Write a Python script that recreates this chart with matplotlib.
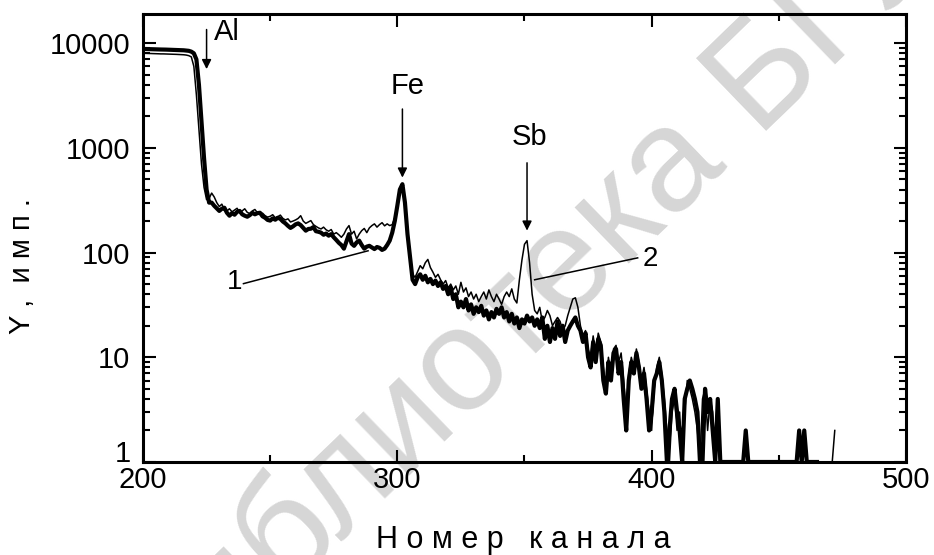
import numpy as np
import matplotlib
matplotlib.use("Agg")
import matplotlib.pyplot as plt
from matplotlib.ticker import FixedLocator, LogLocator, NullFormatter

# Спектры обратного рассеяния: 1 - без сурьмы, 2 - с сурьмой
imp_1 = [
    8800, 8800, 8780, 8760, 8750, 8740, 8720, 8700, 8700, 8680,
    8660, 8650, 8640, 8620, 8600, 8580, 8550, 8500, 8450, 8300,
    8000, 7000, 4000, 1800, 800, 400, 300, 300, 280, 265,
    250, 262, 268, 240, 225, 238, 230, 245, 250, 232,
    225, 220, 228, 240, 232, 238, 240, 222, 215, 205,
    202, 212, 206, 215, 210, 198, 190, 180, 172, 178,
    186, 190, 183, 172, 162, 168, 169, 175, 160, 158,
    155, 148, 152, 145, 150, 140, 132, 124, 118, 109,
    128, 150, 122, 116, 125, 130, 118, 109, 114, 116,
    112, 108, 113, 111, 106, 109, 118, 130, 155, 200,
    280, 400, 450, 300, 150, 90, 55, 50, 58, 62,
    55, 60, 52, 56, 50, 54, 48, 52, 45, 48,
    40, 46, 36, 40, 30, 34, 30, 36, 28, 32,
    26, 30, 27, 31, 25, 28, 23, 27, 24, 29,
    26, 30, 24, 27, 22, 26, 21, 24, 19, 23,
    21, 25, 22, 24, 20, 23, 19, 24, 15, 20,
    14, 19, 15, 22, 16, 20, 14, 18, 20, 22,
    24, 20, 18, 14, 17, 10, 8, 14, 9, 15,
    13, 6, 4.5, 9, 6, 11, 12, 7, 9, 4,
    2, 6, 9, 7, 11, 8, 5, 7, 4, 2,
    3, 6, 7, 9, 6, 3, 1, 2, 4, 5,
    3, 2, 1, 4, 5, 6, 5, 4, 3, 1,
    1, 5, 3, 4, 2, 1, 4, 1, 1, 1,
    1, 1, 1, 1, 1, 1, 1, 2, 1, 1,
    1, 1, 1, 1, 1, 1, 1, 1, 1, 1,
    1, 1, 1, 1, 1, 1, 1, 1, 2, 1,
    2, 1, 1, 1, 1, 1,
]

imp_2 = [
    8000, 8000, 7980, 7960, 7950, 7940, 7920, 7900, 7900, 7880,
    7860, 7850, 7840, 7820, 7800, 7780, 7750, 7700, 7600, 7400,
    6000, 3200, 1500, 700, 420, 320, 330, 370, 340, 300,
    275, 290, 258, 250, 262, 245, 255, 265, 240, 250,
    262, 242, 236, 250, 258, 240, 232, 238, 225, 218,
    222, 230, 215, 220, 228, 212, 205, 210, 196, 200,
    205, 212, 225, 200, 190, 196, 202, 185, 178, 172,
    168, 175, 165, 160, 166, 150, 155, 148, 140, 150,
    168, 181, 150, 160, 135, 150, 162, 170, 155, 172,
    181, 188, 175, 185, 193, 180, 188, 181, 185, 215,
    290, 380, 420, 280, 160, 95, 62, 58, 66, 75,
    70, 80, 86, 72, 65, 58, 62, 55, 50, 54,
    46, 50, 44, 48, 40, 52, 42, 46, 38, 42,
    36, 40, 34, 38, 42, 36, 44, 38, 34, 40,
    36, 32, 38, 42, 38, 45, 36, 33, 55, 85,
    120, 130, 80, 40, 28, 26, 30, 22, 24, 28,
    25, 20, 22, 24, 22, 18, 20, 25, 30, 36,
    37, 30, 20, 16, 18, 12, 10, 16, 11, 17,
    14, 8, 5, 10, 7, 12, 13, 9, 11, 6,
    3, 7, 10, 8, 12, 9, 6, 8, 5, 3,
    2, 5, 8, 10, 7, 4, 2, 1, 3, 4,
    2, 3, 1, 3, 6, 5, 4, 3, 2, 1,
    4, 5, 2, 4, 3, 1, 3, 1, 1, 1,
    1, 1, 1, 1, 1, 1, 1, 2, 1, 1,
    1, 1, 1, 1, 1, 1, 1, 1, 1, 1,
    1, 1, 1, 1, 1, 1, 1, 1, 2, 1,
    2, 1, 1, 1, 1, 1, 1, 1, 1, 1,
    1, 1, 2,
]

kanal_1 = np.arange(200, 200 + len(imp_1))
kanal_2 = np.arange(200, 200 + len(imp_2))

x_ticks = [200, 300, 400, 500]
y_ticks = [1, 10, 100, 1000, 10000]
y_labels = ["1", "10", "100", "1000", "10000"]

# элементы: подпись, канал стрелки, положение подписи, начало и конец стрелки
elementy = ["Al", "Fe", "Sb"]
el_kanal = [225, 302, 351]
el_text = [(233, 12700), (304, 3900), (352, 1270)]
el_strelka = [(13500, 5650), (2350, 520), (720, 162)]

plt.rcParams["font.family"] = ["Liberation Sans", "DejaVu Sans"]

fig = plt.figure(figsize=(9.34, 5.55), dpi=100)
ax = fig.add_axes([0.1531, 0.1676, 0.8169, 0.8072])

# водяной знак библиотеки (под осями)
fig.text(0.643, 0.57, "Библиотека БГУИР", fontsize=105, color="#d6d6d6",
         rotation=44, ha="center", va="center", zorder=-1)
ax.patch.set_alpha(0)

ax.plot(kanal_2, imp_2, color="k", lw=1.1, zorder=3)
ax.plot(kanal_1, imp_1, color="k", lw=3.0, zorder=4)

ax.set_yscale("log")
ax.set_xlim(200, 500)
ax.set_ylim(1, 19000)

ax.xaxis.set_major_locator(FixedLocator(x_ticks))
ax.xaxis.set_minor_locator(FixedLocator([250, 350, 450]))
ax.set_xticklabels([str(t) for t in x_ticks])
ax.yaxis.set_major_locator(FixedLocator(y_ticks))
ax.yaxis.set_minor_locator(LogLocator(base=10, subs=np.arange(2, 10)))
ax.yaxis.set_minor_formatter(NullFormatter())
ax.set_yticklabels(y_labels)

ax.tick_params(which="both", direction="in", top=True, right=True,
               width=1.5, labelsize=21)
ax.tick_params(which="major", length=9)
ax.tick_params(axis="y", which="major", pad=9)
ax.tick_params(axis="x", which="major", pad=3)
ax.tick_params(which="minor", length=5)
for sp in ax.spines.values():
    sp.set_linewidth(2.2)

# нижняя подпись "1" стоит над осью
ax.get_yticklabels()[0].set_va("baseline")

for name, ch, (tx, ty), (y0, y1) in zip(elementy, el_kanal, el_text, el_strelka):
    ax.text(tx, ty, name, fontsize=21, ha="center", va="center")
    ax.annotate("", xy=(ch, y1), xytext=(ch, y0),
                arrowprops=dict(arrowstyle="-|>", color="k", lw=1.1,
                                mutation_scale=14, shrinkA=0, shrinkB=0))

# выноски номеров кривых
ax.plot([239.5, 288.5], [50.5, 104], color="k", lw=1.1)
ax.text(236, 52, "1", fontsize=20, ha="center", va="center")
ax.plot([354, 394.5], [55, 89], color="k", lw=1.1)
ax.text(399.5, 86, "2", fontsize=20, ha="center", va="center")

fig.text(0.56, 0.027, "Н о м е р   к а н а л а", fontsize=22,
         ha="center", va="center")
fig.text(0.024, 0.52, "Y ,  и м п .", fontsize=21, rotation=90,
         ha="center", va="center")

fig.savefig("out.png", dpi=100)
